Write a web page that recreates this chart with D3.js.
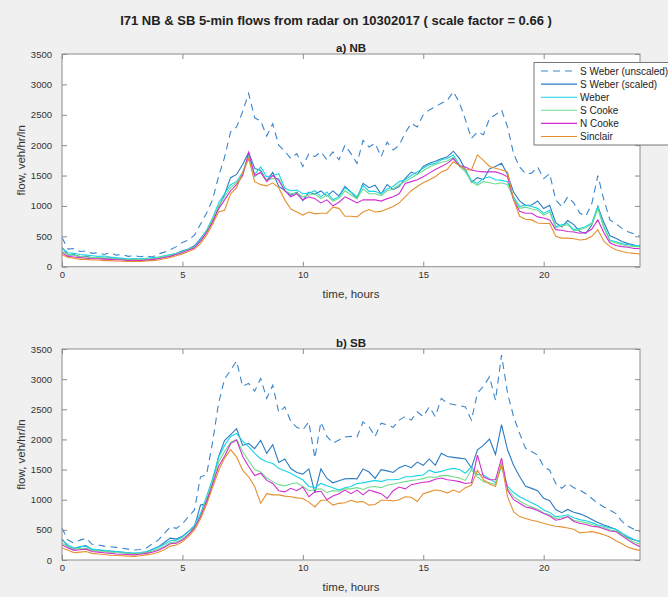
<!DOCTYPE html>
<html>
<head>
<meta charset="utf-8">
<script src="https://cdn.jsdelivr.net/npm/d3@7"></script>
<style>
  body { margin: 0; background: #f0f0f0; }
  svg { display: block; font-family: "Liberation Sans", Arial, Helvetica, sans-serif; }
</style>
</head>
<body>
<svg width="668" height="597"></svg>
<script>
// chart data (15 min samples, 0..24 h)
var stepHours = 0.25;
var scaleFactor = 0.66;
var xTicks = [0, 5, 10, 15, 20];
var yTicks = [0, 500, 1000, 1500, 2000, 2500, 3000, 3500];
var seriesNames = ["S Weber (unscaled)", "S Weber (scaled)", "Weber", "S Cooke", "N Cooke", "Sinclair"];

var nbUnscaled = [480,290,300,250,260,220,230,200,
  230,190,200,170,180,165,175,160,
  210,240,280,330,400,440,520,700,
  880,1100,1480,1800,2220,2300,2550,2850,
  2450,2400,2150,2350,2000,1900,1780,1860,
  1650,1860,1810,1890,1760,1890,1760,2000,
  1860,1700,2080,1970,2030,1810,2050,1920,
  2000,2200,2360,2300,2500,2580,2630,2690,
  2740,2880,2700,2420,2110,2220,2170,2440,
  2500,2580,2300,1860,1640,1530,1540,1640,
  1450,1530,1100,990,1150,1050,880,830,
  1040,1500,1100,770,710,630,575,540,500];
var nbWeber = [300,230,220,200,190,180,170,175,
  160,150,140,130,135,130,140,150,
  160,180,200,220,250,290,330,450,
  600,800,1050,1200,1350,1400,1550,1820,
  1520,1640,1480,1500,1530,1290,1250,1260,
  1200,1210,1250,1150,1230,1100,1150,1300,
  1230,1150,1340,1240,1240,1200,1280,1320,
  1400,1430,1500,1560,1620,1680,1700,1760,
  1780,1840,1680,1590,1420,1370,1450,1480,
  1430,1420,1400,1150,990,1010,990,960,
  880,930,660,690,710,610,630,660,
  720,990,660,440,410,380,360,350,350];
var nbSCooke = [250,200,190,170,160,150,150,145,
  140,130,120,115,120,115,125,135,
  150,165,185,210,240,280,320,430,
  580,780,1000,1150,1300,1380,1500,1800,
  1480,1560,1420,1450,1450,1250,1200,1210,
  1150,1180,1200,1120,1180,1080,1120,1250,
  1180,1120,1280,1200,1200,1170,1250,1280,
  1350,1400,1460,1520,1580,1640,1680,1720,
  1740,1800,1650,1560,1400,1340,1400,1380,
  1360,1380,1350,1120,960,980,950,930,
  850,900,640,670,690,590,610,640,
  700,950,640,420,390,360,340,330,330];
var nbNCooke = [230,170,160,150,140,130,130,125,
  120,115,110,100,105,100,110,120,
  130,150,170,200,230,270,310,420,
  560,740,950,1100,1250,1350,1500,1880,
  1500,1550,1400,1500,1420,1250,1150,1200,
  1100,1150,1120,1050,1100,1000,1060,1150,
  1100,1050,1100,1100,1100,1080,1120,1150,
  1200,1370,1400,1430,1480,1540,1600,1650,
  1700,1780,1660,1640,1590,1570,1560,1560,
  1560,1530,1480,1100,910,880,880,820,
  800,770,610,600,580,570,550,560,
  620,770,560,390,350,330,320,300,300];
var nbSinclair = [200,150,140,120,120,110,110,100,
  100,95,90,85,90,85,95,100,
  110,130,150,180,210,250,290,380,
  520,700,900,930,1200,1300,1550,1780,
  1400,1350,1330,1380,1300,1100,950,900,
  850,900,870,880,880,980,960,830,
  830,820,900,940,900,910,950,990,
  1050,1150,1250,1320,1380,1430,1480,1560,
  1600,1730,1660,1600,1590,1840,1750,1650,
  1620,1590,1560,1100,830,780,770,720,
  710,710,500,470,470,460,440,450,
  500,610,420,330,280,250,230,220,210];

var sbUnscaled = [525,330,280,330,360,260,250,230,
  220,210,195,180,165,175,195,270,
  330,440,550,525,600,720,830,1380,
  1410,1950,2600,3000,3150,3300,2880,2930,
  2800,3010,2680,2900,2450,2540,2300,2200,
  2160,2290,1690,2290,2050,1940,1990,2040,
  2050,2040,2290,2210,2050,2270,2240,2200,
  2320,2380,2320,2460,2380,2540,2380,2680,
  2600,2580,2560,2540,2320,2770,2880,3040,
  2650,3400,2770,2380,2100,1850,1800,1740,
  1550,1490,1270,1190,1270,1200,1160,1100,
  1020,940,880,830,770,640,560,510,470];
var sbWeber = [330,250,200,220,230,180,170,160,
  150,140,130,120,115,125,140,170,
  210,260,320,330,380,470,580,770,
  1050,1350,1700,1900,2050,2100,1970,1880,
  1770,1680,1630,1600,1520,1480,1440,1380,
  1330,1220,1200,1270,1230,1200,1160,1200,
  1220,1270,1280,1300,1320,1300,1330,1330,
  1340,1380,1380,1400,1410,1490,1450,1470,
  1500,1520,1500,1440,1550,1420,1410,1350,
  1280,1550,1220,1120,1050,1000,950,900,
  830,790,720,730,750,700,670,650,
  620,580,560,530,510,450,390,340,300];
var sbSCooke = [280,220,180,190,200,160,150,140,
  130,120,115,105,100,110,125,150,
  180,230,290,300,350,430,540,730,
  1000,1300,1620,1800,1950,2000,1800,1650,
  1500,1460,1360,1300,1250,1230,1260,1280,
  1220,1150,1170,1180,1120,1150,1140,1180,
  1180,1200,1170,1210,1220,1200,1240,1260,
  1280,1300,1320,1330,1350,1380,1370,1400,
  1400,1380,1360,1320,1500,1380,1300,1280,
  1250,1600,1180,1050,980,920,880,840,
  780,750,690,700,720,660,640,620,
  590,560,540,500,480,420,350,300,260];
var sbNCooke = [250,200,160,170,180,140,130,120,
  110,100,95,90,85,95,110,130,
  160,210,270,280,330,420,530,720,
  970,1250,1550,1720,1930,1990,1720,1550,
  1400,1440,1320,1270,1150,1130,1190,1150,
  1210,1050,1130,1140,1000,1060,1100,1160,
  1100,1160,1080,1160,1130,1100,1020,1150,
  1210,1180,1250,1270,1290,1300,1340,1360,
  1330,1320,1300,1270,1280,1740,1380,1330,
  1330,1690,1160,1000,940,880,860,820,
  770,730,660,680,720,640,610,590,
  560,550,520,480,470,400,330,270,220];
var sbSinclair = [200,160,120,130,140,110,100,90,
  80,75,70,65,60,70,85,100,
  130,170,230,250,300,390,500,680,
  920,1200,1480,1690,1830,1710,1490,1380,
  1220,940,1100,1080,1080,1060,1050,1030,
  1020,960,880,990,990,910,940,950,
  990,960,970,910,920,990,990,980,
  1000,1050,1040,970,1100,1130,1160,1150,
  1110,1160,1120,1200,1240,1490,1330,1260,
  1220,1600,1050,800,720,690,660,640,
  610,580,560,550,530,510,450,460,
  470,450,420,380,320,270,210,180,160];

// scaled series use the scale factor given in the title
var nbScaled = nbUnscaled.map(function(v) { return v * scaleFactor; });
var sbScaled = sbUnscaled.map(function(v) { return v * scaleFactor; });

var colors = ["#3a86cc", "#2b7bc2", "#19d3e6", "#70dc8c", "#d12fd1", "#e5902e"];
var dashes = ["7,5", null, null, null, null, null];

var svg = d3.select("svg");
var axisColor = "#8c8c8c", textColor = "#333";

svg.append("text")
  .attr("x", 336).attr("y", 25)
  .attr("text-anchor", "middle")
  .style("font-size", "13px").style("font-weight", "bold").style("fill", "#222")
  .text("I71 NB & SB 5-min flows from radar on 10302017 ( scale factor = 0.66 )");

var x = d3.scaleLinear().domain([0, 24]).range([62, 640]);

var panels = [
  { title: "a) NB", top: 54, bottom: 266.7, data: [nbUnscaled, nbScaled, nbWeber, nbSCooke, nbNCooke, nbSinclair], legend: true },
  { title: "b) SB", top: 349, bottom: 560, data: [sbUnscaled, sbScaled, sbWeber, sbSCooke, sbNCooke, sbSinclair], legend: false }
];

panels.forEach(function(p, pi) {
  var y = d3.scaleLinear().domain([0, 3500]).range([p.bottom, p.top]);
  var g = svg.append("g");

  g.append("rect")
    .attr("x", 62).attr("y", p.top)
    .attr("width", 578).attr("height", p.bottom - p.top)
    .attr("fill", "#fff");

  g.append("clipPath").attr("id", "clip" + pi)
    .append("rect")
    .attr("x", 62).attr("y", p.top)
    .attr("width", 578).attr("height", p.bottom - p.top);

  var line = d3.line()
    .x(function(d, i) { return x(i * stepHours); })
    .y(function(d) { return y(d); });

  var lines = g.append("g").attr("clip-path", "url(#clip" + pi + ")");
  p.data.forEach(function(s, si) {
    lines.append("path")
      .datum(s)
      .attr("d", line)
      .attr("fill", "none")
      .attr("stroke", colors[si])
      .attr("stroke-width", 1.1)
      .attr("stroke-dasharray", dashes[si]);
  });

  // axes with inward ticks on all four sides
  var bx = g.append("g").attr("transform", "translate(0," + p.bottom + ")")
    .call(d3.axisBottom(x).tickValues(xTicks).tickSize(-5).tickPadding(4.5).tickFormat(d3.format("d")));
  var tx = g.append("g").attr("transform", "translate(0," + p.top + ")")
    .call(d3.axisTop(x).tickValues(xTicks).tickSize(-5).tickFormat(""));
  var ly = g.append("g").attr("transform", "translate(62,0)")
    .call(d3.axisLeft(y).tickValues(yTicks).tickSize(-5).tickPadding(10).tickFormat(d3.format("d")));
  var ry = g.append("g").attr("transform", "translate(640,0)")
    .call(d3.axisRight(y).tickValues(yTicks).tickSize(-5).tickFormat(""));

  [bx, tx, ly, ry].forEach(function(a) {
    a.select(".domain").remove();
    a.selectAll("line").attr("stroke", axisColor);
    a.selectAll("text").style("font-size", "9.5px").style("fill", textColor)
      .style("font-family", "'Liberation Sans', Arial, sans-serif");
  });

  g.append("rect")
    .attr("x", 62).attr("y", p.top)
    .attr("width", 578).attr("height", p.bottom - p.top)
    .attr("fill", "none").attr("stroke", axisColor);

  g.append("text")
    .attr("x", 351).attr("y", p.top - 2.5)
    .attr("text-anchor", "middle")
    .style("font-size", "11.5px").style("font-weight", "bold").style("fill", "#222")
    .text(p.title);

  g.append("text")
    .attr("x", 351).attr("y", p.bottom + 31)
    .attr("text-anchor", "middle")
    .style("font-size", "11.5px").style("fill", textColor)
    .text("time, hours");

  g.append("text")
    .attr("transform", "translate(25," + ((p.top + p.bottom) / 2) + ") rotate(-90)")
    .attr("text-anchor", "middle")
    .style("font-size", "11.5px").style("fill", textColor)
    .text("flow, veh/hr/ln");

  if (p.legend) {
    var lg = g.append("g");
    lg.append("rect")
      .attr("x", 534).attr("y", 62.5)
      .attr("width", 150).attr("height", 82.5)
      .attr("fill", "#fff").attr("stroke", "#777");
    seriesNames.forEach(function(name, si) {
      var yy = 71 + si * 13.1;
      lg.append("line")
        .attr("x1", 541).attr("x2", 577)
        .attr("y1", yy).attr("y2", yy)
        .attr("stroke", colors[si]).attr("stroke-width", 1.1)
        .attr("stroke-dasharray", dashes[si]);
      lg.append("text")
        .attr("x", 580).attr("y", yy)
        .attr("dy", "0.35em")
        .style("font-size", "10px").style("fill", "#222")
        .text(name);
    });
  }
});
</script>
</body>
</html>
